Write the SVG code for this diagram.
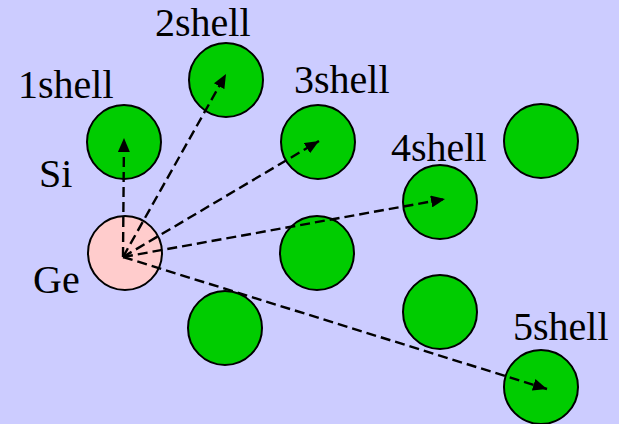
<svg xmlns="http://www.w3.org/2000/svg" width="619" height="424" viewBox="0 0 619 424">
  <defs>
    <style>
      .si { fill: #00cc00; stroke: #000; stroke-width: 2; }
      .ge { fill: #ffcccc; stroke: #000; stroke-width: 2; }
      .lbl { font-family: "Liberation Serif", "Times New Roman", serif; font-size: 40px; font-weight: normal; fill: #000; }
      .vec { fill: none; stroke: #000; stroke-width: 2.4; stroke-dasharray: 10 5; marker-end: url(#head); }
    </style>
    <marker id="head" viewBox="0 0 14 12" refX="14" refY="6" markerWidth="14" markerHeight="12" markerUnits="userSpaceOnUse" orient="auto">
      <path d="M0,0 L14,6 L0,12 Z" fill="#000"/>
    </marker>
  </defs>

  <rect width="619" height="424" fill="#ccccff"/>

  <!-- lattice atoms -->
  <g id="atom-1shell"><circle class="si" cx="124" cy="142" r="37"/></g>
  <g id="atom-2shell"><circle class="si" cx="226" cy="80" r="37"/></g>
  <g id="atom-3shell"><circle class="si" cx="318" cy="142" r="37"/></g>
  <g id="atom-top-right"><circle class="si" cx="541" cy="141" r="37"/></g>
  <g id="atom-4shell"><circle class="si" cx="440" cy="202" r="37"/></g>
  <g id="atom-mid"><circle class="si" cx="317" cy="253" r="37"/></g>
  <g id="atom-low"><circle class="si" cx="225" cy="328" r="37"/></g>
  <g id="atom-low-right"><circle class="si" cx="440" cy="312" r="37"/></g>
  <g id="atom-5shell"><circle class="si" cx="541" cy="387" r="37"/></g>
  <g id="atom-ge"><circle class="ge" cx="125" cy="253" r="37"/></g>

  <!-- shell vectors from the Ge site -->
  <g id="connectors">
    <line class="vec" x1="123" y1="257" x2="124" y2="138"/>
    <line class="vec" x1="123" y1="257" x2="226" y2="74"/>
    <line class="vec" x1="123" y1="257" x2="319" y2="141"/>
    <line class="vec" x1="123" y1="257" x2="445" y2="199"/>
    <line class="vec" x1="123" y1="257" x2="547" y2="389"/>
  </g>

  <!-- labels -->
  <g id="labels">
    <text class="lbl" x="18" y="98">1shell</text>
    <text class="lbl" x="155" y="36">2shell</text>
    <text class="lbl" x="294" y="93">3shell</text>
    <text class="lbl" x="391" y="161">4shell</text>
    <text class="lbl" x="513" y="340">5shell</text>
    <text class="lbl" x="39" y="187">Si</text>
    <text class="lbl" x="33" y="293">Ge</text>
  </g>
</svg>
